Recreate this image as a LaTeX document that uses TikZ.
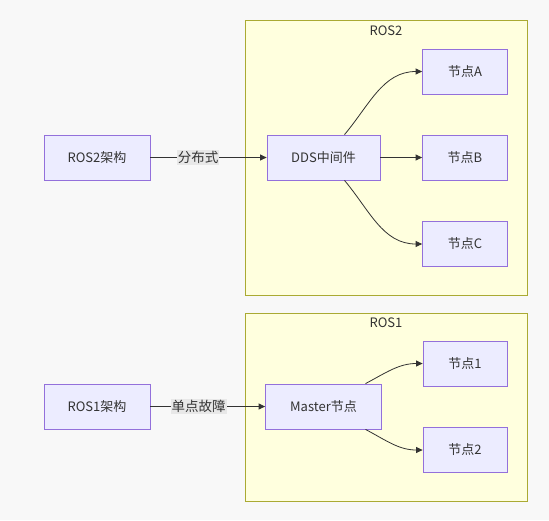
\documentclass[tikz,border=0pt]{standalone}
\usepackage{fontspec}
\setmainfont{Noto Sans CJK SC}
\usetikzlibrary{arrows.meta}
\definecolor{nodefill}{HTML}{ECECFF}
\definecolor{nodeline}{HTML}{9370DB}
\definecolor{clusfill}{HTML}{FFFFDE}
\definecolor{clusline}{HTML}{AAAA33}
\definecolor{edgecol}{HTML}{333333}
\definecolor{lblbg}{HTML}{E8E8E8}
\definecolor{bgcol}{HTML}{F8F8F8}
\tikzset{
  box/.style={draw=nodeline, fill=nodefill, line width=0.8pt, text=edgecol, font=\fontsize{13}{15}\selectfont, inner sep=0pt, anchor=center},
  cluster/.style={draw=clusline, fill=clusfill, line width=0.8pt},
  clabel/.style={text=edgecol, font=\fontsize{13}{15}\selectfont, inner sep=0pt},
  conn/.style={draw=edgecol, line width=0.8pt, -{Triangle[length=6.5pt,width=6pt]}},
  elabel/.style={fill=lblbg, text=edgecol, font=\fontsize{13.5}{15}\selectfont, inner sep=1pt}
}
\begin{document}
\begin{tikzpicture}[x=1pt,y=-1pt]
\fill[bgcol] (0,0) rectangle (549,520);
\useasboundingbox (0,0) rectangle (549,520);
% clusters
\draw[cluster] (245,20) rectangle (527,295);
\node[clabel] (ros2lbl) at (386,31) {ROS2};
\draw[cluster] (245,313) rectangle (527,501);
\node[clabel] (ros1lbl) at (386,323) {ROS1};
% nodes
\node[box, minimum width=106pt, minimum height=45pt] (r2) at (97,157.5) {ROS2架构};
\node[box, minimum width=113pt, minimum height=45pt] (dds) at (323.5,157.5) {DDS中间件};
\node[box, minimum width=85pt, minimum height=45pt] (na) at (465,71.5) {节点A};
\node[box, minimum width=85pt, minimum height=45pt] (nb) at (465,157.5) {节点B};
\node[box, minimum width=85pt, minimum height=45pt] (nc) at (465,244) {节点C};
\node[box, minimum width=106pt, minimum height=45pt] (r1) at (97,406.5) {ROS1架构};
\node[box, minimum width=116pt, minimum height=45pt] (ms) at (323.5,406.5) {Master节点};
\node[box, minimum width=84pt, minimum height=45pt] (n1) at (465,363.5) {节点1};
\node[box, minimum width=84pt, minimum height=45pt] (n2) at (465,450) {节点2};
% edges
\draw[conn] (r2) -- node[elabel, pos=0.41] {分布式} (dds);
\draw[conn] ([xshift=21pt]dds.north) to[out=50,in=180] (na.west);
\draw[conn] (dds) -- (nb);
\draw[conn] ([xshift=21pt]dds.south) to[out=-50,in=180] (nc.west);
\draw[conn] (r1) -- node[elabel, pos=0.42] {单点故障} (ms);
\draw[conn] ([xshift=42pt]ms.north) to[out=28,in=180] (n1.west);
\draw[conn] ([xshift=42pt]ms.south) to[out=-28,in=180] (n2.west);
\end{tikzpicture}
\end{document}
